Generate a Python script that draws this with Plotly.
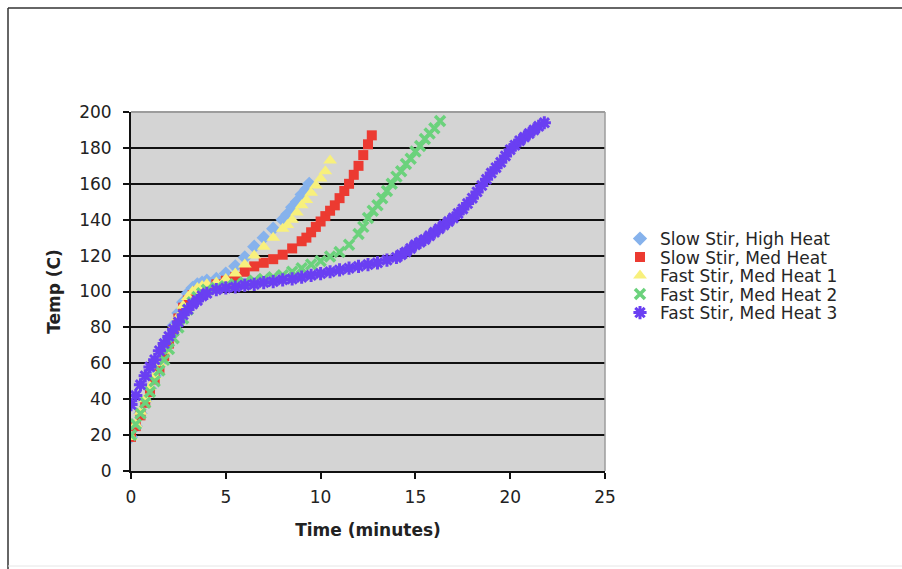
import plotly.graph_objects as go

# ---------------- data ----------------
series_names = [
    "Slow Stir, High Heat",
    "Slow Stir, Med Heat",
    "Fast Stir, Med Heat 1",
    "Fast Stir, Med Heat 2",
    "Fast Stir, Med Heat 3",
]

slow_high_t = [0, 0.25, 0.5, 0.75, 1, 1.25, 1.5, 1.75, 2, 2.25, 2.5, 2.75, 3, 3.25, 3.5, 3.75, 4,
               4.5, 5, 5.5, 6, 6.5, 7, 7.5, 8, 8.25, 8.5, 8.75, 9, 9.25, 9.4]
slow_high_v = [19, 25, 32, 39, 46, 53, 60, 67, 74, 81, 88, 94, 99, 102, 104, 105, 106,
               107, 110, 114, 119, 125, 130, 135, 140, 143, 147, 150, 154, 157, 160]

slow_med_t = [0, 0.25, 0.5, 0.75, 1, 1.25, 1.5, 1.75, 2, 2.25, 2.5, 2.75, 3, 3.25, 3.5, 3.75, 4,
              4.5, 5, 5.5, 6, 6.5, 7, 7.5, 8, 8.5, 9, 9.25, 9.5, 9.75, 10, 10.25, 10.5, 10.75,
              11, 11.25, 11.5, 11.75, 12, 12.25, 12.5, 12.7]
slow_med_v = [19, 25, 31, 38, 44, 51, 57, 64, 71, 78, 85, 91, 95, 98, 100, 101, 102,
              104, 106, 108, 111, 114, 116, 118, 120.5, 124, 128, 130, 133, 136, 139, 142, 145, 148,
              152, 156, 160, 165, 170, 176, 182, 187]

fast1_t = [0, 0.25, 0.5, 0.75, 1, 1.25, 1.5, 1.75, 2, 2.25, 2.5, 2.75, 3, 3.25, 3.5, 3.75, 4,
           4.5, 5, 5.5, 6, 6.5, 7, 7.5, 8, 8.25, 8.5, 8.75, 9, 9.25, 9.5, 9.75, 10, 10.25, 10.5]
fast1_v = [19, 26, 33, 40, 47, 53, 60, 67, 74, 80, 86, 92, 97, 100, 102, 103, 104,
           105, 107, 110, 115, 120, 125, 130, 135, 137, 140, 144, 148, 151, 155, 159, 163, 167, 173]

fast2_t = [0, 0.25, 0.5, 0.75, 1, 1.25, 1.5, 1.75, 2, 2.25, 2.5, 2.75, 3, 3.25, 3.5, 3.75, 4,
           4.5, 5, 5.5, 6, 6.5, 7, 7.5, 8, 8.5, 9, 9.5, 10, 10.5, 11, 11.5, 12, 12.25, 12.5,
           12.75, 13, 13.25, 13.5, 13.75, 14, 14.25, 14.5, 14.75, 15, 15.25, 15.5, 15.75, 16, 16.3]
fast2_v = [20, 26, 32, 38, 44, 50, 56, 62, 68, 74, 80, 85, 90, 94, 97, 99, 101,
           102, 103, 104, 105, 106, 107, 108, 109, 111, 113, 115, 117, 119.5, 122, 126, 132, 136, 141,
           145, 148, 152, 156, 160, 164, 167, 171, 174, 178, 181, 185, 188, 191, 195]

fast3_t = [0, 0.25, 0.5, 0.75, 1, 1.25, 1.5, 1.75, 2, 2.25, 2.5, 2.75, 3, 3.25, 3.5, 3.75, 4,
           4.5, 5, 5.5, 6, 6.5, 7, 7.5, 8, 8.5, 9, 9.5, 10, 10.5, 11, 11.5, 12, 12.5, 13, 13.5,
           14, 14.25, 14.5, 14.75, 15, 15.25, 15.5, 15.75, 16, 16.25, 16.5, 16.75, 17, 17.25,
           17.5, 17.75, 18, 18.25, 18.5, 18.75, 19, 19.25, 19.5, 19.75, 20, 20.25, 20.5, 20.75,
           21, 21.25, 21.5, 21.8]
fast3_v = [37, 42, 48, 53, 58, 62, 67, 71, 75, 79, 83, 87, 90, 93, 95, 97.5, 99,
           101, 102, 102.5, 103.5, 104, 105, 105.5, 106.5, 107, 108, 109, 110, 111, 112, 113, 114, 115, 116, 117.5,
           119, 120.5, 122, 124, 126, 127.5, 129, 131, 133, 135, 137, 139, 141, 143.5,
           146, 149, 152, 155.5, 159, 162.5, 166, 169, 172, 175.5, 179, 181.5, 184, 186,
           188, 190, 192, 194]

x_ticks = [0, 5, 10, 15, 20, 25]
y_ticks = [0, 20, 40, 60, 80, 100, 120, 140, 160, 180, 200]

# ---------------- styling ----------------
W, H = 902, 569
L, R, T, B = 131, 605, 112, 471          # plot-area pixel box
FONT = "DejaVu Sans"

def px_x(px):
    return (px - L) / (R - L)

def px_y(py):
    return (B - py) / (B - T)

styles = [
    dict(symbol="diamond", color="#86B2EC", size=11, line=dict(width=0)),
    dict(symbol="square", color="#EC3A31", size=10, line=dict(width=0)),
    dict(symbol="triangle-up", color="#F8F07C", size=12, line=dict(width=0)),
    dict(symbol="x-thin", color="#6BD27C", size=10, line=dict(width=3.5, color="#6BD27C")),
    dict(symbol="asterisk", color="#6A3FF2", size=11, line=dict(width=3, color="#6A3FF2")),
]

xs = [slow_high_t, slow_med_t, fast1_t, fast2_t, fast3_t]
ys = [slow_high_v, slow_med_v, fast1_v, fast2_v, fast3_v]
legend_rows = [239, 257.5, 276, 294.5, 313]

fig = go.Figure()
for i, name in enumerate(series_names):
    lname = "legend" if i == 0 else f"legend{i+1}"
    fig.add_trace(go.Scatter(
        x=xs[i], y=ys[i], name=name, mode="markers",
        marker=styles[i], legend=lname,
    ))

layout_legends = {}
for i, row in enumerate(legend_rows):
    lname = "legend" if i == 0 else f"legend{i+1}"
    layout_legends[lname] = dict(
        x=px_x(620), y=px_y(row), xanchor="left", yanchor="middle",
        bgcolor="rgba(0,0,0,0)", borderwidth=0,
        font=dict(family=FONT, size=17, color="#262626"),
        itemwidth=30,
    )

tickfont = dict(family=FONT, size=17, color="#222222")
titlefont = dict(family=FONT, size=17, color="#222222", weight="bold")

fig.update_layout(
    width=W, height=H, autosize=False,
    margin=dict(l=L, r=W - R, t=T, b=H - B, pad=0),
    paper_bgcolor="white", plot_bgcolor="#D4D4D4",
    showlegend=True,
    **layout_legends,
    xaxis=dict(
        range=[0, 25], tickvals=x_ticks, showgrid=False, zeroline=False,
        showline=True, linecolor="#111111", linewidth=2,
        ticks="outside", ticklen=6, tickwidth=2, tickcolor="#111111",
        tickfont=tickfont, ticklabelstandoff=4,
        title=dict(text="Time (minutes)", font=titlefont, standoff=18),
    ),
    yaxis=dict(
        range=[0, 200], tickvals=y_ticks, showgrid=True, gridcolor="#111111", gridwidth=2,
        zeroline=False, showline=True, linecolor="#111111", linewidth=2,
        ticks="outside", ticklen=6, tickwidth=2, tickcolor="#111111",
        tickfont=tickfont, ticklabelstandoff=8,
        title=dict(text="Temp (C)", font=titlefont, standoff=14),
    ),
    shapes=[
        # plot-area top and right borders (gray)
        dict(type="line", xref="paper", yref="paper", x0=0, x1=1, y0=1, y1=1,
             line=dict(color="#9C9C9C", width=2), layer="above"),
        dict(type="line", xref="paper", yref="paper", x0=1, x1=1, y0=0, y1=1,
             line=dict(color="#9C9C9C", width=1.5), layer="above"),
        # outer chart frame
        dict(type="line", xref="paper", yref="paper", x0=px_x(8), x1=px_x(902), y0=px_y(8), y1=px_y(8),
             line=dict(color="#333333", width=1.5), layer="above"),
        dict(type="line", xref="paper", yref="paper", x0=px_x(8), x1=px_x(8), y0=px_y(8), y1=px_y(569),
             line=dict(color="#333333", width=1.5), layer="above"),
        dict(type="line", xref="paper", yref="paper", x0=px_x(8), x1=px_x(902), y0=px_y(566), y1=px_y(566),
             line=dict(color="#E6E6E6", width=1), layer="above"),
    ],
)

fig.write_html("out.html")
